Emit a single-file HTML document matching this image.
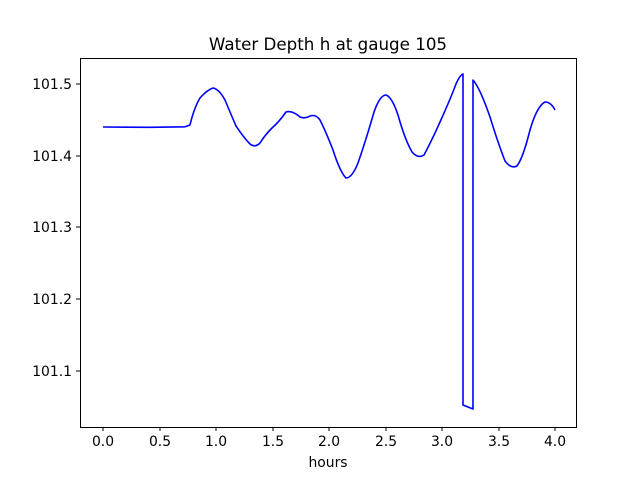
<!DOCTYPE html>
<html><head><meta charset="utf-8"><style>body{margin:0;background:#fff}</style></head><body>
<svg width="640" height="480" xmlns="http://www.w3.org/2000/svg" font-family="DejaVu Sans, Liberation Sans, sans-serif">
<rect width="640" height="480" fill="#fff"/>
<text x="328" y="50" font-size="16.7" text-anchor="middle">Water Depth h at gauge 105</text>
<path fill="none" stroke="#0000ff" stroke-width="1.6" stroke-linejoin="round" d="M103,127 L150,127.3 L185,126.8 L190,125 Q194,108 200,98 Q207,90 213,88 Q219,89 225,100 Q230,112 236,126 Q244,138 250,144 Q255,148 260,143 Q265,135 272,128 Q279,122 286,112 Q292,110 300,117 Q305,119 310,116 Q316,114 320,120 Q326,132 333,150 Q340,172 346,178 Q352,178 358,163 Q366,140 374,112 Q380,95 386,95 Q392,97 398,115 Q405,140 412,152 Q418,159 424,155 Q432,140 440,122 Q450,100 456,84 Q460,75 463,74 L463,405 L473,409 L473,80 Q480,88 490,117 Q498,143 505,161 Q511,169 517,166 Q523,158 530,130 Q537,106 545,102 Q551,102 555,110"/>
<rect x="80.5" y="58.5" width="496" height="369" fill="none" stroke="#000" stroke-width="1"/>
<g stroke="#000" stroke-width="1">
<line x1="103" y1="427" x2="103" y2="431"/><line x1="160" y1="427" x2="160" y2="431"/><line x1="216" y1="427" x2="216" y2="431"/><line x1="273" y1="427" x2="273" y2="431"/><line x1="329" y1="427" x2="329" y2="431"/><line x1="386" y1="427" x2="386" y2="431"/><line x1="442" y1="427" x2="442" y2="431"/><line x1="499" y1="427" x2="499" y2="431"/><line x1="555" y1="427" x2="555" y2="431"/>
<line x1="76" y1="84" x2="80" y2="84"/><line x1="76" y1="156" x2="80" y2="156"/><line x1="76" y1="227" x2="80" y2="227"/><line x1="76" y1="299" x2="80" y2="299"/><line x1="76" y1="371" x2="80" y2="371"/>
</g>
<g font-size="13.9" text-anchor="middle">
<text x="103" y="446">0.0</text><text x="160" y="446">0.5</text><text x="216" y="446">1.0</text><text x="273" y="446">1.5</text><text x="329" y="446">2.0</text><text x="386" y="446">2.5</text><text x="442" y="446">3.0</text><text x="499" y="446">3.5</text><text x="555" y="446">4.0</text>
<text x="328" y="467">hours</text>
</g>
<g font-size="13.9" text-anchor="end">
<text x="72" y="89">101.5</text><text x="72" y="161">101.4</text><text x="72" y="232">101.3</text><text x="72" y="304">101.2</text><text x="72" y="376">101.1</text>
</g>
</svg>
</body></html>
